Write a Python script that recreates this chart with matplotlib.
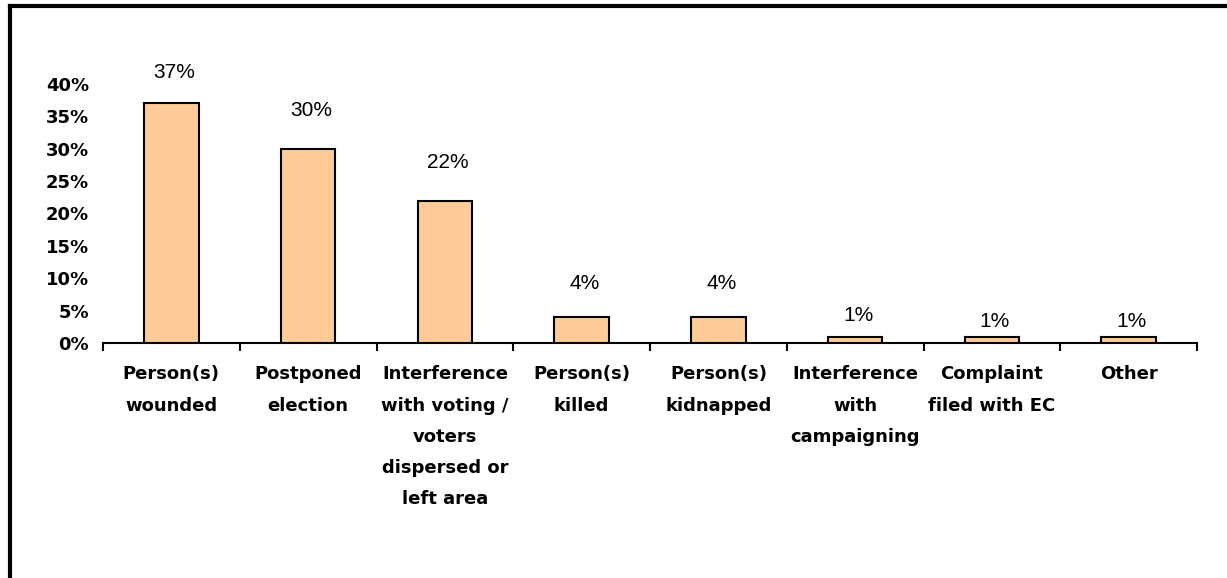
import numpy as np
import matplotlib
matplotlib.use('Agg')
from matplotlib import pyplot as plt
from matplotlib.lines import Line2D
from matplotlib.ticker import PercentFormatter

categories = ['Person(s)\nwounded', 'Postponed\nelection',
              'Interference\nwith voting /\nvoters\ndispersed or\nleft area',
              'Person(s)\nkilled', 'Person(s)\nkidnapped',
              'Interference\nwith\ncampaigning', 'Complaint\nfiled with EC', 'Other']
values = [37, 30, 22, 4, 4, 1, 1, 1]
value_labels = ['37%', '30%', '22%', '4%', '4%', '1%', '1%', '1%']
yticks = [0, 5, 10, 15, 20, 25, 30, 35, 40]

# gap between bar top and its label, in pixels
label_gap = [31, 38, 38, 34, 34, 21, 15, 15]

fig = plt.figure(figsize=(12.27, 5.78), dpi=100)
ax = fig.add_axes([103 / 1227, 1 - 343 / 578, (1197 - 103) / 1227, (343 - 84) / 578])

x = np.arange(len(values))
ax.bar(x, values, width=0.4, color='#FFCC99', edgecolor='black', linewidth=1.5, zorder=3)

for xi, v, lab, gap in zip(x, values, value_labels, label_gap):
    ax.annotate(lab, (xi, v), xytext=(3, gap), textcoords='offset pixels',
                ha='center', va='center', fontsize=15, family='Liberation Sans')

ax.set_xlim(-0.5, len(values) - 0.5)
ax.set_ylim(0, 40)
ax.set_yticks(yticks)
ax.yaxis.set_major_formatter(PercentFormatter(decimals=0))
ax.tick_params(axis='y', length=0, pad=10, labelsize=13)
for t in ax.get_yticklabels():
    t.set_fontweight('bold')

ax.set_xticks(x)
ax.set_xticklabels(categories, fontsize=13, fontweight='bold', linespacing=1.95)
ax.set_xticks(np.arange(len(values) + 1) - 0.5, minor=True)
ax.tick_params(axis='x', which='major', length=0, pad=16)
ax.tick_params(axis='x', which='minor', length=6, width=1.5, direction='out')

for s in ['top', 'right', 'left']:
    ax.spines[s].set_visible(False)
ax.spines['bottom'].set_linewidth(1.5)

# frame lines along the top and left edges
fig.add_artist(Line2D([10 / 1227, 1], [1 - 6 / 578, 1 - 6 / 578], color='black', lw=3, transform=fig.transFigure))
fig.add_artist(Line2D([10 / 1227, 10 / 1227], [0, 1 - 6 / 578], color='black', lw=3, transform=fig.transFigure))

fig.savefig('out.png', dpi=100)
